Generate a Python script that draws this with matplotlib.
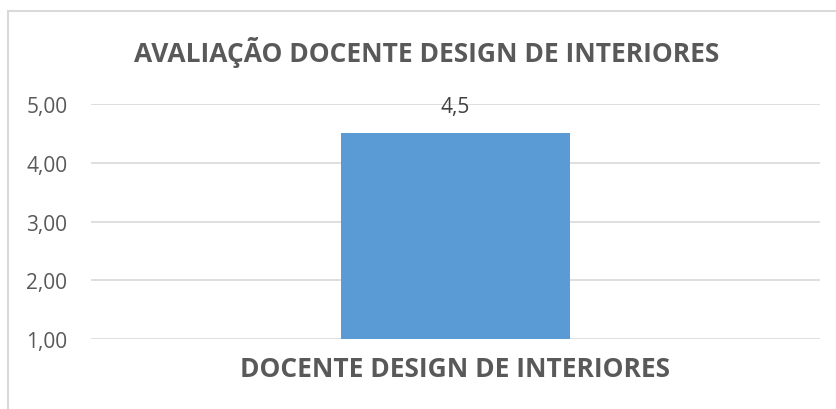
import matplotlib.pyplot as plt
from matplotlib.patches import Rectangle

categories = ['DOCENTE DESIGN DE INTERIORES']
values = [4.5]
yticks = [1, 2, 3, 4, 5]
ytick_labels = ['1,00', '2,00', '3,00', '4,00', '5,00']
value_labels = ['4,5']

plt.rcParams['font.family'] = ['Open Sans', 'DejaVu Sans']
gray = '#595959'

fig = plt.figure(figsize=(8.37, 4.10), dpi=100)
ax = fig.add_axes([91/837, 1-340/410, (820-91)/837, (340-105)/410])

# chart border (cropped on right and bottom)
fig.patches.append(Rectangle((8/837, -0.1), 1.2, 1-12/410+0.1, transform=fig.transFigure,
                             fill=False, edgecolor='#d9d9d9', linewidth=1.5))

bars = ax.bar([0], values, width=0.314, bottom=0, color='#5b9bd5', zorder=3)
ax.set_xlim(-0.5, 0.5)
ax.set_ylim(1, 5)
ax.set_yticks(yticks)
ax.set_yticklabels(ytick_labels, fontsize=15, color=gray)
ax.yaxis.grid(True, color='#d9d9d9', linewidth=1.2, zorder=0)
ax.tick_params(axis='y', length=0, pad=17)
ax.set_xticks([])
for s in ax.spines.values():
    s.set_visible(False)

for i, v in enumerate(values):
    ax.text(i, v + 0.45, value_labels[i], ha='center', va='center', fontsize=15, color='#404040', zorder=4)

fig.text(455/837, 1-370/410, categories[0], ha='center', va='center',
         fontsize=19, fontweight='bold', color=gray)
fig.text(427/837, 1-53/410, 'AVALIAÇÃO DOCENTE DESIGN DE INTERIORES', ha='center', va='center',
         fontsize=19, fontweight='bold', color=gray)

fig.savefig('out.png', dpi=100)
